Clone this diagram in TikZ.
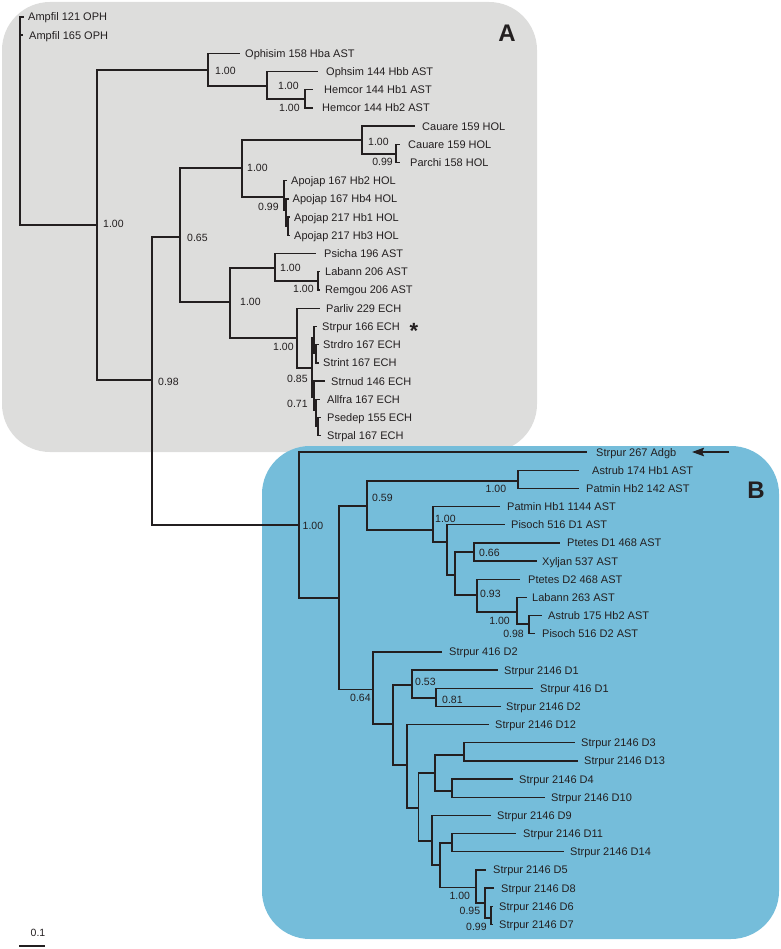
\documentclass[tikz,border=0pt]{standalone}
\usepackage{fontspec}
\setmainfont{Liberation Sans}
\usetikzlibrary{arrows.meta}
\definecolor{panelA}{RGB}{221,221,220}
\definecolor{panelB}{RGB}{117,189,218}
\definecolor{ink}{RGB}{35,31,32}
\newcommand\leafnode[5]{\coordinate (#1) at (#2,#4); \node[leaf] (#1-l) at (#3,#4+4) {#5};}
\begin{document}
\begin{tikzpicture}[x=1pt,y=-1pt,
  br/.style={draw=ink, line width=1.4pt},
  leaf/.style={anchor=base west, inner sep=0pt, text=ink, font=\fontsize{11}{13}\selectfont},
  bs/.style={anchor=west, inner sep=0pt, text=ink, font=\fontsize{10.5}{12}\selectfont},
  bse/.style={bs, anchor=east},
  panel/.style={rounded corners=48pt},
  plabel/.style={anchor=base, inner sep=0pt, text=ink, font=\fontsize{24}{26}\selectfont\bfseries}]
\useasboundingbox (0,0) rectangle (780,949);
% panels
\fill[panelA, panel] (2,2) rectangle (537,452);
\fill[panelB, panel] (262,446) rectangle (779,939);
\node[plabel] (labA) at (507,41.5) {A};
\node[plabel] (labB) at (756,498.5) {B};
% ---------- Panel A leaves ----------
\leafnode{amp121}{24}{28}{17}{Ampfil 121 OPH}
\leafnode{amp165}{23}{29}{35.2}{Ampfil 165 OPH}
\leafnode{oph158}{240}{245}{53.4}{Ophisim 158 Hba AST}
\leafnode{oph144}{318}{326}{71.6}{Ophsim 144 Hbb AST}
\leafnode{hem1}{313}{324}{89.8}{Hemcor 144 Hb1 AST}
\leafnode{hem2}{313}{322}{108}{Hemcor 144 Hb2 AST}
\leafnode{cau1}{415}{422}{126.2}{Cauare 159 HOL}
\leafnode{cau2}{400}{408}{144.4}{Cauare 159 HOL}
\leafnode{par158}{400}{410}{162.6}{Parchi 158 HOL}
\leafnode{apo1}{287}{291}{180.8}{Apojap 167 Hb2 HOL}
\leafnode{apo2}{289}{292.5}{199}{Apojap 167 Hb4 HOL}
\leafnode{apo3}{290}{294}{217.2}{Apojap 217 Hb1 HOL}
\leafnode{apo4}{290}{294}{235.4}{Apojap 217 Hb3 HOL}
\leafnode{psi}{316}{324}{253.6}{Psicha 196 AST}
\leafnode{lab206}{320}{325}{271.8}{Labann 206 AST}
\leafnode{rem}{320}{325}{290}{Remgou 206 AST}
\leafnode{parliv}{320}{326}{308.2}{Parliv 229 ECH}
\leafnode{sp166}{317}{322}{326.4}{Strpur 166 ECH}
\leafnode{sdro}{319}{323}{344.6}{Strdro 167 ECH}
\leafnode{sint}{319}{323}{362.8}{Strint 167 ECH}
\leafnode{snud}{325}{331}{381}{Strnud 146 ECH}
\leafnode{allf}{320}{327}{399.2}{Allfra 167 ECH}
\leafnode{psed}{321}{327}{417.4}{Psedep 155 ECH}
\leafnode{spal}{321}{327}{435.6}{Strpal 167 ECH}
% Panel A internal nodes
\coordinate (r) at (20,120);
\coordinate (n97) at (97,225);
\coordinate (n208) at (208,70);
\coordinate (n267) at (267,86);
\coordinate (n305) at (305,99);
\coordinate (n152) at (152,380);
\coordinate (n180) at (180,237);
\coordinate (n242) at (242,168);
\coordinate (n362) at (362,140);
\coordinate (n396) at (396,154);
\coordinate (na1) at (284,197);
\coordinate (na2) at (286,210);
\coordinate (na3) at (288,226);
\coordinate (n230) at (230,302);
\coordinate (n275) at (275,268);
\coordinate (n318) at (318,281);
\coordinate (n297) at (297,338);
\coordinate (n312) at (312,368);
\coordinate (ne1) at (314,338);
\coordinate (ne1b) at (316,353);
\coordinate (ne2) at (314,397);
\coordinate (ne2b) at (316,410);
\coordinate (ne2c) at (318,426);
% ---------- Panel B leaves ----------
\leafnode{s267}{587}{596}{452}{Strpur 267 Adgb}
\leafnode{ast174}{579}{592}{470.2}{Astrub 174 Hb1 AST}
\leafnode{patHb2}{579}{586}{488.3}{Patmin Hb2 142 AST}
\leafnode{patHb1}{500}{507}{506.5}{Patmin Hb1 1144 AST}
\leafnode{pisD1}{505}{511}{524.7}{Pisoch 516 D1 AST}
\leafnode{ptD1}{560}{567}{542.9}{Ptetes D1 468 AST}
\leafnode{xyl}{537}{542}{561}{Xyljan 537 AST}
\leafnode{ptD2}{520}{528}{579.2}{Ptetes D2 468 AST}
\leafnode{lab263}{527}{532}{597.4}{Labann 263 AST}
\leafnode{ast175}{542}{548}{615.5}{Astrub 175 Hb2 AST}
\leafnode{pisD2}{535}{542}{633.7}{Pisoch 516 D2 AST}
\leafnode{s416D2}{442}{449}{651.9}{Strpur 416 D2}
\leafnode{d1}{498}{504}{670}{Strpur 2146 D1}
\leafnode{s416D1}{533}{540}{688.2}{Strpur 416 D1}
\leafnode{d2}{501}{506}{706.4}{Strpur 2146 D2}
\leafnode{d12}{489}{495}{724.6}{Strpur 2146 D12}
\leafnode{d3}{575}{581}{742.7}{Strpur 2146 D3}
\leafnode{d13}{578}{584}{760.9}{Strpur 2146 D13}
\leafnode{d4}{513}{519}{779.1}{Strpur 2146 D4}
\leafnode{d10}{545}{551}{797.2}{Strpur 2146 D10}
\leafnode{d9}{491}{497}{815.4}{Strpur 2146 D9}
\leafnode{d11}{516}{523}{833.6}{Strpur 2146 D11}
\leafnode{d14}{564}{570}{851.7}{Strpur 2146 D14}
\leafnode{d5}{486}{493}{869.9}{Strpur 2146 D5}
\leafnode{d8}{494}{501}{888.1}{Strpur 2146 D8}
\leafnode{d6}{493}{499}{906.3}{Strpur 2146 D6}
\leafnode{d7}{493}{499}{924.4}{Strpur 2146 D7}
% Panel B internal nodes
\coordinate (b0) at (299,525);
\coordinate (b1) at (339,598);
\coordinate (b2) at (367,506);
\coordinate (b3) at (518,481);
\coordinate (b4) at (433,530);
\coordinate (b5) at (447,542);
\coordinate (b6) at (455,575);
\coordinate (b7) at (474,552);
\coordinate (b8) at (477,595);
\coordinate (b9) at (517,612);
\coordinate (b10) at (529,624);
\coordinate (c0) at (373,689.5);
\coordinate (c1) at (393,724);
\coordinate (c2) at (412,685);
\coordinate (c2b) at (436,698);
\coordinate (c3) at (407,765);
\coordinate (c4) at (418.5,808);
\coordinate (c5) at (435,773);
\coordinate (c6) at (432,841);
\coordinate (c7) at (464,755);
\coordinate (c8) at (452,791);
\coordinate (c9) at (440,865);
\coordinate (c10) at (452,843);
\coordinate (c11) at (476,887.5);
\coordinate (c12) at (485,903);
\coordinate (c13) at (491,918);
% ---------- branches ----------
\foreach \p/\c in {r/amp121, r/amp165, r/n97,
  n97/n208, n97/n152, n208/oph158, n208/n267, n267/oph144, n267/n305,
  n305/hem1, n305/hem2, n152/n180, n152/b0, n180/n242, n180/n230,
  n242/n362, n242/na1, n362/cau1, n362/n396, n396/cau2, n396/par158,
  na1/apo1, na1/na2, na2/apo2, na2/na3, na3/apo3, na3/apo4,
  n230/n275, n230/n297, n275/psi, n275/n318, n318/lab206, n318/rem,
  n297/parliv, n297/n312, n312/ne1, n312/ne2, ne1/sp166, ne1/ne1b,
  ne1b/sdro, ne1b/sint, ne2/snud, ne2/ne2b, ne2b/allf, ne2b/ne2c,
  ne2c/psed, ne2c/spal,
  b0/s267, b0/b1, b1/b2, b1/c0, b2/b3, b2/b4, b3/ast174, b3/patHb2,
  b4/patHb1, b4/b5, b5/pisD1, b5/b6, b6/b7, b6/b8, b7/ptD1, b7/xyl,
  b8/ptD2, b8/b9, b9/lab263, b9/b10, b10/ast175, b10/pisD2,
  c0/s416D2, c0/c1, c1/c2, c1/c3, c2/d1, c2/c2b, c2b/s416D1, c2b/d2,
  c3/d12, c3/c4, c4/c5, c4/c6, c5/c7, c5/c8, c7/d3, c7/d13, c8/d4, c8/d10,
  c6/d9, c6/c9, c9/c10, c9/c11, c10/d11, c10/d14, c11/d5, c11/c12,
  c12/d8, c12/c13, c13/d6, c13/d7}
  \draw[br] (\p) |- (\c);
% ---------- support values ----------
\node[bs] (sA1) at (103,224) {1.00};
\node[bs] (sA2) at (215,71) {1.00};
\node[bs] (sA3) at (278,86) {1.00};
\node[bs] (sA4) at (279,108) {1.00};
\node[bs] (sA5) at (368,142) {1.00};
\node[bse] (sA6) at (393,162) {0.99};
\node[bs] (sA7) at (247,168) {1.00};
\node[bs] (sA8) at (258,207) {0.99};
\node[bs] (sA9) at (187,238) {0.65};
\node[bs] (sA10) at (158,382) {0.98};
\node[bs] (sA11) at (240,302) {1.00};
\node[bs] (sA12) at (280,268) {1.00};
\node[bs] (sA13) at (293,289) {1.00};
\node[bs] (sA14) at (273,347) {1.00};
\node[bs] (sA15) at (287,379) {0.85};
\node[bs] (sA16) at (287,404) {0.71};
\node[bs] (sB1) at (302.5,526) {1.00};
\node[bs] (sB2) at (372,498) {0.59};
\node[bs] (sB3) at (485.5,489) {1.00};
\node[bs] (sB4) at (435,519) {1.00};
\node[bs] (sB5) at (479,553) {0.66};
\node[bs] (sB6) at (480,594) {0.93};
\node[bse] (sB7) at (510,621) {1.00};
\node[bse] (sB8) at (524,634) {0.98};
\node[bs] (sB9) at (350,698) {0.64};
\node[bs] (sB10) at (415,682) {0.53};
\node[bs] (sB11) at (442,700) {0.81};
\node[bs] (sB12) at (449.3,896) {1.00};
\node[bs] (sB13) at (459.5,911) {0.95};
\node[bs] (sB14) at (466,927) {0.99};
% ---------- marks ----------
\node[anchor=base, inner sep=0pt, text=ink, font=\fontsize{22}{22}\selectfont\bfseries] (star) at (414,338.5) {*};
\coordinate (arrS) at (729,452);
\coordinate (arrE) at (692,452);
\draw[ink, line width=1.8pt, -{Stealth[length=12pt,width=8.5pt,inset=2pt]}] (arrS) -- (arrE);
% ---------- scale bar ----------
\coordinate (sc1) at (19,946);
\coordinate (sc2) at (45,946);
\draw[br] (sc1) -- (sc2);
\node[anchor=base, inner sep=0pt, text=ink, font=\fontsize{10.5}{12}\selectfont] (scl) at (38,936.5) {0.1};
\end{tikzpicture}
\end{document}
